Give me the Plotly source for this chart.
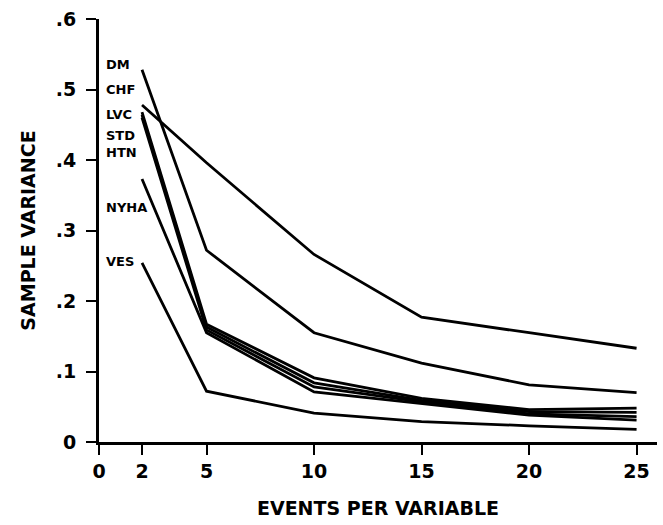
import plotly.graph_objects as go

epv = [2, 5, 10, 15, 20, 25]

series_names = ["DM", "CHF", "LVC", "STD", "HTN", "NYHA", "VES"]
dm   = [0.528, 0.272, 0.155, 0.112, 0.081, 0.070]
chf  = [0.478, 0.396, 0.266, 0.177, 0.155, 0.133]
lvc  = [0.468, 0.167, 0.091, 0.062, 0.046, 0.048]
std  = [0.464, 0.163, 0.084, 0.059, 0.043, 0.042]
htn  = [0.460, 0.159, 0.078, 0.057, 0.040, 0.036]
nyha = [0.373, 0.155, 0.071, 0.055, 0.038, 0.031]
ves  = [0.254, 0.072, 0.041, 0.029, 0.023, 0.018]
series_values = [dm, chf, lvc, std, htn, nyha, ves]

label_y = [0.535, 0.500, 0.464, 0.435, 0.410, 0.332, 0.256]

x_tickvals = [0, 2, 5, 10, 15, 20, 25]
x_ticktext = ["0", "2", "5", "10", "15", "20", "25"]
y_tickvals = [0, 0.1, 0.2, 0.3, 0.4, 0.5, 0.6]
y_ticktext = ["0", ".1", ".2", ".3", ".4", ".5", ".6"]

FONT = "DejaVu Sans"

fig = go.Figure()
for name, vals in zip(series_names, series_values):
    fig.add_trace(go.Scatter(x=epv, y=vals, mode="lines", name=name,
                             line=dict(color="black", width=2.8),
                             showlegend=False))

for name, ly in zip(series_names, label_y):
    fig.add_annotation(x=0.25, y=ly, xref="x", yref="y", text="<b>%s</b>" % name,
                       showarrow=False, xanchor="left", yanchor="middle",
                       font=dict(family=FONT, size=13, color="black"))

fig.update_layout(
    width=663, height=525,
    margin=dict(l=99, r=6, t=19, b=83),
    plot_bgcolor="white", paper_bgcolor="white",
    font=dict(family=FONT, color="black"),
)
fig.update_xaxes(
    range=[0, 25.95], tickvals=x_tickvals, ticktext=x_ticktext,
    showline=True, linecolor="black", linewidth=3,
    ticks="outside", ticklen=10, tickwidth=2, tickcolor="black",
    showgrid=False, zeroline=False,
    tickfont=dict(family=FONT, size=19, color="black", weight="bold"),
    title=dict(text="<b>EVENTS PER VARIABLE</b>", standoff=21,
               font=dict(family=FONT, size=19, color="black")),
)
fig.update_yaxes(
    range=[0, 0.6], tickvals=y_tickvals, ticktext=y_ticktext,
    showline=True, linecolor="black", linewidth=3,
    ticks="outside", ticklen=10, tickwidth=2, tickcolor="black",
    ticklabelstandoff=6,
    showgrid=False, zeroline=False,
    tickfont=dict(family=FONT, size=19, color="black", weight="bold"),
    title=dict(text="<b>SAMPLE VARIANCE</b>", standoff=16,
               font=dict(family=FONT, size=19, color="black")),
)

fig.write_html("out.html",
               config={"displayModeBar": False},
               post_script="document.body.style.margin='0px';"
                           "document.body.style.overflow='hidden';")
